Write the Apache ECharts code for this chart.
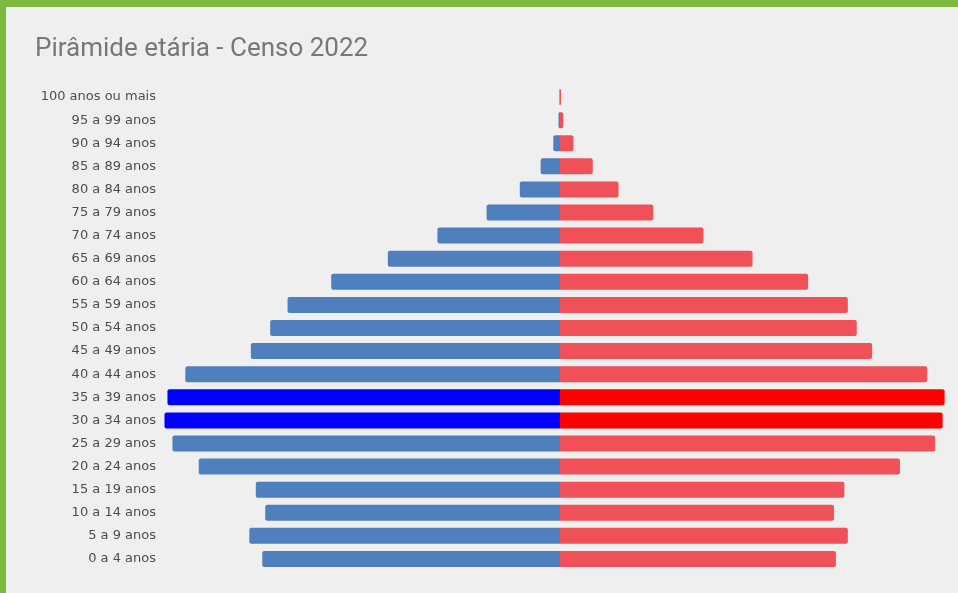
<!DOCTYPE html>
<html>
<head>
<meta charset="utf-8">
<script src="https://cdn.jsdelivr.net/npm/echarts@6/dist/echarts.min.js"></script>
<style>
html,body{margin:0;padding:0;background:#efefef;}
#chart{width:958px;height:593px;}
</style>
</head>
<body>
<div id="chart"></div>
<script>
// Categories bottom-to-top
const categories = ["0 a 4 anos","5 a 9 anos","10 a 14 anos","15 a 19 anos","20 a 24 anos","25 a 29 anos","30 a 34 anos","35 a 39 anos","40 a 44 anos","45 a 49 anos","50 a 54 anos","55 a 59 anos","60 a 64 anos","65 a 69 anos","70 a 74 anos","75 a 79 anos","80 a 84 anos","85 a 89 anos","90 a 94 anos","95 a 99 anos","100 anos ou mais"];
// Left side (blue), millions
const leftValues = [6.00,6.26,5.94,6.13,7.28,7.81,7.97,7.91,7.55,6.23,5.84,5.49,4.61,3.47,2.47,1.48,0.81,0.39,0.135,0.03,0.012];
// Right side (red), millions
const rightValues = [5.56,5.80,5.52,5.73,6.85,7.56,7.71,7.75,7.40,6.29,5.98,5.80,5.00,3.88,2.89,1.88,1.18,0.66,0.27,0.067,0.02];
// Highlighted age groups
const highlighted = ["30 a 34 anos","35 a 39 anos"];
const axisMax = 8;

const chart = echarts.init(document.getElementById('chart'));
chart.setOption({
  backgroundColor: '#efefef',
  animation: false,
  title: {
    text: 'Pirâmide etária - Censo 2022',
    left: 30, top: 31,
    textStyle: { fontFamily: 'Roboto', fontSize: 26, fontWeight: 'normal', color: '#777777' }
  },
  graphic: [
    { type: 'rect', shape: { x: 0, y: 0, width: 958, height: 7 }, style: { fill: '#7db83f' } },
    { type: 'rect', shape: { x: 0, y: 0, width: 6, height: 593 }, style: { fill: '#7db83f' } }
  ],
  grid: { left: 163, right: 1, top: 85.5, bottom: 22.5 },
  xAxis: {
    type: 'value', min: -axisMax, max: axisMax, show: false
  },
  yAxis: {
    type: 'category', data: categories,
    axisLine: { show: false }, axisTick: { show: false },
    axisLabel: { margin: 7, fontFamily: 'DejaVu Sans', fontSize: 13, color: '#4d4d4d' }
  },
  series: [
    {
      type: 'bar', name: 'left', barWidth: 16, barGap: '-100%',
      data: leftValues.map(v => -v),
      itemStyle: {
        borderRadius: [2, 0, 0, 2],
        color: p => highlighted.includes(p.name) ? '#0000ff' : '#4f7fbd'
      }
    },
    {
      type: 'bar', name: 'right', barWidth: 16, barGap: '-100%',
      data: rightValues,
      itemStyle: {
        borderRadius: [0, 2, 2, 0],
        color: p => highlighted.includes(p.name) ? '#ff0000' : '#f05058'
      }
    }
  ]
});
</script>
</body>
</html>
